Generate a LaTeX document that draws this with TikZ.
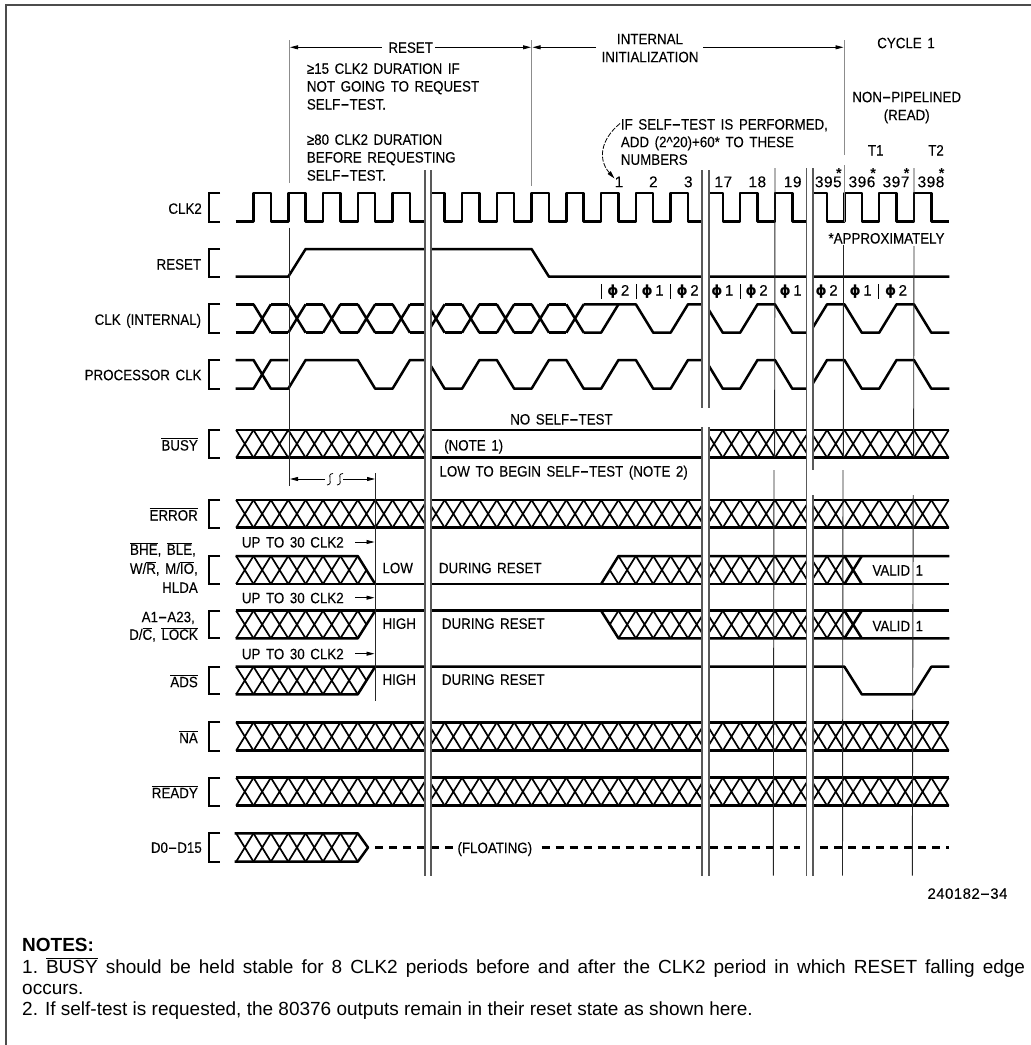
\documentclass[tikz,border=0pt]{standalone}
\usepackage{fontspec}
\usetikzlibrary{arrows.meta}
\setmainfont{Liberation Sans}
\newfontfamily\cadfont[FakeStretch=0.89,WordSpace=1.5,FakeBold=0.12]{Liberation Sans}
\newfontfamily\numfont[LetterSpace=3,FakeBold=0.12]{Liberation Sans}
\newfontfamily\phifont{DejaVu Sans}
\newcounter{tn}
\newcommand\ovl[1]{\ensuremath{\overline{\mbox{#1}}}}
\newcommand\hy{\scalebox{2.1}[1.15]{-}}
\newcommand\xk[1]{{253.5+17.38*(#1)}}
\newcommand\tlft[3]{\stepcounter{tn}\node[cad,anchor=base west] (t\arabic{tn}) at (#1,#2) {#3};}
\newcommand\trgt[3]{\stepcounter{tn}\node[cad,anchor=base east] (t\arabic{tn}) at (#1,#2) {#3};}
\newcommand\tcen[3]{\stepcounter{tn}\node[cad,anchor=base] (t\arabic{tn}) at (#1,#2) {#3};}
\newcommand\tnum[2]{\stepcounter{tn}\node[cad,anchor=base] (t\arabic{tn}) at (#1,187.2) {\numfont\fontsize{15.5}{15.5}\selectfont #2};}
\newcommand\xcells[4]{\foreach \k in {#1,...,#2}{\draw[xdiag] (\xk{\k},#3) -- (\xk{\k+1},#4) (\xk{\k},#4) -- (\xk{\k+1},#3);}}
\newcommand\brkt[2]{\draw[brk] (220,#1) -- (208.7,#1) -- (208.7,#2) -- (220,#2);}
\newcommand\fullbus[2]{\draw[sig] (235.7,#1) -- (949.3,#1) (235.7,#2) -- (949.3,#2);}
\newcommand\phil[2]{\stepcounter{tn}\node[cad,anchor=base] (t\arabic{tn}) at (#1,295.5) {{\phifont\bfseries\fontsize{14}{14}\selectfont ϕ}\,{\numfont #2}};}
\tikzset{
  cad/.style={inner sep=0pt,font=\cadfont\fontsize{15}{15}\selectfont},
  note/.style={inner sep=0pt,anchor=base west,font=\fontsize{19}{19}\selectfont},
  sig/.style={line width=2.5pt,line join=round},
  xdiag/.style={line width=1.7pt},
  brk/.style={line width=2pt},
  vl/.style={line width=0.9pt,black!85},
  vg/.style={line width=0.9pt,black!45},
  pairl/.style={line width=1.3pt,black!65},
  dim/.style={line width=0.8pt},
  tip/.style={-{Stealth[length=8pt,width=4pt,inset=0pt]}},
  frm/.style={line width=1.6pt,black!70}
}
\begin{document}
\begin{tikzpicture}[x=1pt,y=-1pt]
\useasboundingbox (0,0) rectangle (1031,1045);
\draw[frm] (6,1045) -- (6,5) -- (1031,5);
% signals, cut at the three breaks
\begin{scope}
\clip (0,0) rectangle (425,1045) (431,0) rectangle (702,1045) (709,0) rectangle (806.3,1045) (813,0) rectangle (1031,1045);
% CLK2
\draw[sig] (235.7,221.5) foreach \k in {0,2,...,38}{ -- (\xk{\k},221.5) -- (\xk{\k},193) -- (\xk{\k+1},193) -- (\xk{\k+1},221.5)} -- (949.3,221.5);
% RESET
\draw[sig] (235.7,276.7) -- (\xk{2},276.7) -- (\xk{3},249) -- (\xk{16},249) -- (\xk{17},276.7) -- (949.3,276.7);
% CLK internal
\draw[sig] (235.7,304.3) -- (\xk{0},304.3) (235.7,332.7) -- (\xk{0},332.7);
\foreach \k in {0,2,...,18}{\draw[sig] (\xk{\k},304.3) -- (\xk{\k+1},332.7) (\xk{\k},332.7) -- (\xk{\k+1},304.3);}
\foreach \k in {1,3,...,17}{\draw[sig] (\xk{\k},304.3) -- (\xk{\k+1},304.3) (\xk{\k},332.7) -- (\xk{\k+1},332.7);}
\draw[sig] (\xk{19},332.7) -- (\xk{20},332.7) -- (\xk{21},304.3);
\draw[sig] (\xk{19},304.3) -- (\xk{22},304.3)
  foreach \k in {22,26,...,34}{ -- (\xk{\k+1},332.7) -- (\xk{\k+2},332.7) -- (\xk{\k+3},304.3) -- (\xk{\k+4},304.3)} -- (\xk{39},332.7) -- (949.3,332.7);
% PROCESSOR CLK
\draw[sig] (235.7,360) -- (\xk{0},360) -- (\xk{1},388.7) -- (\xk{2},388.7) -- (\xk{3},360) -- (\xk{6},360)
  foreach \k in {6,10,...,34}{ -- (\xk{\k+1},388.7) -- (\xk{\k+2},388.7) -- (\xk{\k+3},360) -- (\xk{\k+4},360)} -- (\xk{39},388.7) -- (949.3,388.7);
\draw[sig] (235.7,388.7) -- (\xk{0},388.7) -- (\xk{1},360) -- (\xk{2},360);
% BUSY
\fullbus{430}{457.7}
\xcells{-1}{9}{430}{457.7}
\xcells{26}{39}{430}{457.7}
% ERROR
\fullbus{500}{527.7}
\xcells{-1}{39}{500}{527.7}
% BHE group
\draw[sig] (235.7,584) -- (949.3,584);
\draw[sig] (235.7,556) -- (\xk{6},556) -- (\xk{7},584);
\draw[xdiag] (\xk{6},584) -- (\xk{6.5},570);
\xcells{-1}{5}{556}{584}
\draw[sig] (\xk{20},584) -- (\xk{21},556) -- (949.3,556);
\draw[xdiag] (\xk{20.5},570) -- (\xk{21},584);
\xcells{21}{33}{556}{584}
\draw[sig] (\xk{34},556) -- (\xk{35},584) (\xk{34},584) -- (\xk{35},556);
% A1 group
\draw[sig] (235.7,610.7) -- (949.3,610.7);
\draw[sig] (235.7,638.3) -- (\xk{6},638.3) -- (\xk{7},610.7);
\draw[xdiag] (\xk{6},610.7) -- (\xk{6.5},624.5);
\xcells{-1}{5}{610.7}{638.3}
\draw[sig] (\xk{20},610.7) -- (\xk{21},638.3) -- (949.3,638.3);
\draw[xdiag] (\xk{20.5},624.5) -- (\xk{21},610.7);
\xcells{21}{33}{610.7}{638.3}
\draw[sig] (\xk{34},610.7) -- (\xk{35},638.3) (\xk{34},638.3) -- (\xk{35},610.7);
% ADS
\draw[sig] (235.7,666.7) -- (\xk{34},666.7) -- (\xk{35},694.3) -- (\xk{38},694.3) -- (\xk{39},666.7) -- (949.3,666.7);
\draw[sig] (235.7,694.3) -- (\xk{6},694.3) -- (\xk{7},666.7);
\draw[xdiag] (\xk{6},666.7) -- (\xk{6.5},680.5);
\xcells{-1}{5}{666.7}{694.3}
% NA, READY
\fullbus{722.3}{750.7}
\xcells{-1}{39}{722.3}{750.7}
\fullbus{777.7}{805.7}
\xcells{-1}{39}{777.7}{805.7}
% D0-D15
\draw[sig] (234.5,833.3) -- (\xk{6},833.3) -- (368,847.5) -- (\xk{6},861.7) -- (234.5,861.7);
\xcells{-1}{5}{833.3}{861.7}
\draw[sig,dash pattern=on 8pt off 6pt] (375,847.5) -- (453,847.5);
\draw[sig,dash pattern=on 8pt off 6pt] (541.7,847.5) -- (800,847.5);
\draw[sig,dash pattern=on 8pt off 6pt] (820,847.5) -- (949.3,847.5);
\end{scope}
% brackets
\brkt{193}{221.5}
\brkt{249}{276.7}
\brkt{304.3}{332.7}
\brkt{360}{388.7}
\brkt{430}{457.7}
\brkt{500}{527.7}
\brkt{556}{584}
\brkt{610.7}{638.3}
\brkt{666.7}{694.3}
\brkt{722.3}{750.7}
\brkt{777.7}{805.7}
\brkt{833.3}{861.7}
% break lines
\draw[pairl] (425,170) -- (425,875.7) (431,170) -- (431,875.7);
\draw[pairl] (702,170) -- (702,408) (709,170) -- (709,408) (702,427) -- (702,875.7) (709,427) -- (709,875.7);
\draw[pairl] (806.5,168) -- (806.5,875.7) (813,168) -- (813,470) (813,495) -- (813,875.7);
% vertical timing lines
\draw[vg] (289,40) -- (289,183);
\draw[vl] (289,227.7) -- (289,485.7);
\draw[vl] (375.7,473) -- (375.7,700.7);
\draw[vg] (531.7,40) -- (531.7,185.6);
\draw[vg] (844.3,40) -- (844.3,155) (844.3,165) -- (844.3,222);
\draw[vl] (843.5,245) -- (843.3,457) (843,470) -- (842.5,875.7);
\draw[vl] (775,168) -- (774.6,457) (774,470) -- (773.3,875.7);
\draw[vl] (914,168) -- (914,222) (914,246) -- (913.6,457) (913.2,495) -- (912.3,875.7);
% duration arrows
\draw[dim,tip] (381.7,47.3) -- (290,47.3);
\draw[dim,tip] (435,47.3) -- (531,47.3);
\draw[dim,tip] (596,47.3) -- (532.5,47.3);
\draw[dim,tip] (703.3,47.3) -- (843.5,47.3);
\draw[dim,tip] (325,479) -- (290,479);
\draw[dim,tip] (343,479) -- (375,479);
\draw[dim] (333,473.5) .. controls (325,474) and (335,484) .. (327,485);
\draw[dim] (343,473.5) .. controls (335,474) and (345,484) .. (337,485);
\draw[dim,tip] (355,542) -- (374.5,542);
\draw[dim,tip] (355,597.7) -- (374.5,597.7);
\draw[dim,tip] (355,653.7) -- (374.5,653.7);
\draw[dim,tip,dash pattern=on 5pt off 1.5pt] (620,123.5) .. controls (600,140) and (598,160) .. (614.5,178.5);
% phase ticks
\foreach \x in {601.7,636,670.3,740,878.3}{\draw[dim] (\x,284) -- (\x,299);}
% left labels
\trgt{202}{213.8}{CLK2}
\trgt{201.3}{269.5}{RESET}
\trgt{201.3}{324.8}{CLK (INTERNAL)}
\trgt{201.7}{380.2}{PROCESSOR CLK}
\trgt{198}{450.5}{\ovl{BUSY}}
\trgt{198}{520.5}{\ovl{ERROR}}
\trgt{196}{554.8}{\ovl{BHE}, \ovl{BLE},}
\trgt{198}{573.8}{W/\ovl{R}, M/\ovl{IO},}
\trgt{198}{592.8}{HLDA}
\trgt{195}{622.2}{A1\hy A23,}
\trgt{198}{639.8}{D/\ovl{C}, \ovl{LOCK}}
\trgt{198}{687.2}{\ovl{ADS}}
\trgt{198}{743.2}{\ovl{NA}}
\trgt{198}{798.2}{\ovl{READY}}
\trgt{202}{852.8}{D0\hy D15}
% top labels
\tcen{410.7}{52.8}{RESET}
\tcen{650}{44.2}{INTERNAL}
\tcen{650}{62.2}{INITIALIZATION}
\tcen{906}{48.2}{CYCLE 1}
\tcen{906.7}{102.2}{NON\hy PIPELINED}
\tcen{906.7}{120.2}{(READ)}
\tcen{875.7}{155.5}{T1}
\tcen{936}{155.5}{T2}
\tlft{306.7}{73.8}{≥15 CLK2 DURATION IF}
\tlft{306.7}{91.5}{NOT GOING TO REQUEST}
\tlft{306.7}{109.5}{SELF\hy TEST.}
\tlft{306.7}{144.8}{≥80 CLK2 DURATION}
\tlft{306.7}{162.5}{BEFORE REQUESTING}
\tlft{306.7}{180.5}{SELF\hy TEST.}
\tlft{620.7}{129.5}{IF SELF\hy TEST IS PERFORMED,}
\tlft{620.7}{147.2}{ADD (2\textasciicircum 20)+60* TO THESE}
\tlft{620.7}{164.8}{NUMBERS}
% cycle numbers
\tnum{619}{1}
\tnum{653.3}{2}
\tnum{688.3}{3}
\tnum{723.3}{17}
\tnum{757.3}{18}
\tnum{792.7}{19}
\tnum{828.3}{395}
\tnum{862}{396}
\tnum{896}{397}
\tnum{931}{398}
\foreach \x in {839,873.3,906.7,941.7}{\stepcounter{tn}\node[inner sep=0pt,anchor=base,font=\bfseries\fontsize{14.5}{14.5}\selectfont] (t\arabic{tn}) at (\x,178.5) {*};}
\tlft{828.3}{243.5}{*APPROXIMATELY}
% phases
\phil{618.3}{2}
\phil{652.7}{1}
\phil{687.7}{2}
\phil{722.3}{1}
\phil{756.7}{2}
\phil{790.7}{1}
\phil{826.7}{2}
\phil{860.7}{1}
\phil{896}{2}
% mid labels
\tlft{510}{424.5}{NO SELF\hy TEST}
\tlft{444}{450.5}{(NOTE 1)}
\tlft{439.3}{476.5}{LOW TO BEGIN SELF\hy TEST (NOTE 2)}
\tlft{241.7}{547.5}{UP TO 30 CLK2}
\tlft{241.7}{603.2}{UP TO 30 CLK2}
\tlft{241.7}{659.2}{UP TO 30 CLK2}
\tlft{382.3}{573.2}{LOW}
\tlft{438.7}{573.2}{DURING RESET}
\tlft{382.3}{628.8}{HIGH}
\tlft{441.7}{628.8}{DURING RESET}
\tlft{382.3}{684.8}{HIGH}
\tlft{441.7}{684.8}{DURING RESET}
\tlft{872.3}{575.5}{VALID 1}
\tlft{872.3}{631.2}{VALID 1}
\tlft{457.3}{853}{(FLOATING)}
\stepcounter{tn}\node[cad,anchor=base west] (t\arabic{tn}) at (927.3,898.8) {\numfont\fontsize{15}{15}\selectfont 240182\hy 34};
% notes
\node[note,font=\bfseries\fontsize{19}{19}\selectfont] (notes) at (22,951) {NOTES:};
\node[note] (n1) at (22,973.3) {\frenchspacing\hbox to 1003pt{1. \ovl{BUSY} should be held stable for 8 CLK2 periods before and after the CLK2 period in which RESET falling edge}};
\node[note] (n1b) at (22,994.3) {occurs.};
\node[note] (n2) at (22,1015) {2. If self-test is requested, the 80376 outputs remain in their reset state as shown here.};
\end{tikzpicture}
\end{document}
